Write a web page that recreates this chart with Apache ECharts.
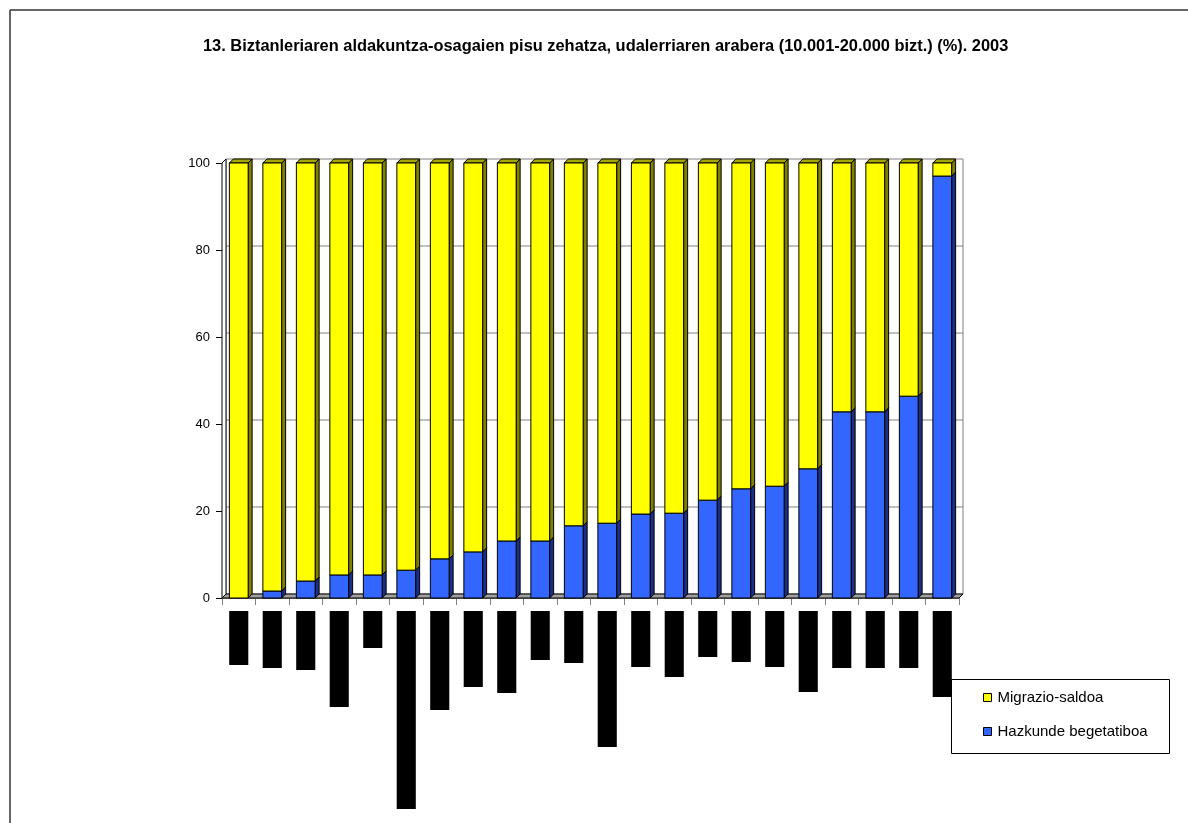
<!DOCTYPE html>
<html>
<head>
<meta charset="utf-8">
<script src="https://cdn.jsdelivr.net/npm/echarts@6/dist/echarts.min.js"></script>
<style>
html,body{margin:0;padding:0;background:#fff;}
#chart{width:1188px;height:823px;}
</style>
</head>
<body>
<div id="chart"></div>
<script>
// ---- data ----
const titleText = '13. Biztanleriaren aldakuntza-osagaien pisu zehatza, udalerriaren arabera (10.001-20.000 bizt.) (%). 2003';
const categories = ['1','2','3','4','5','6','7','8','9','10','11','12','13','14','15','16','17','18','19','20','21','22'];
const seriesNames = ['Migrazio-saldoa', 'Hazkunde begetatiboa'];
const hazkunde = [0, 1.6, 3.9, 5.3, 5.3, 6.4, 9.0, 10.6, 13.1, 13.1, 16.6, 17.2, 19.3, 19.5, 22.5, 25.1, 25.7, 29.7, 42.8, 42.8, 46.4, 97.0];
const migrazio = hazkunde.map(v => +(100 - v).toFixed(1));
// lengths of the (redacted, black) category label blocks under the axis
const labelBlockLengths = [54, 57, 59, 96, 37, 198, 99, 76, 82, 49, 52, 136, 56, 66, 46, 51, 56, 81, 57, 57, 57, 86];
const yTicks = [0, 20, 40, 60, 80, 100];

const DEPTH = 4;
const FONT = '"Liberation Sans", Arial, sans-serif';

function bar3d(front, side, top) {
  return function (params, api) {
    const i = api.value(0), lo = api.value(1), hi = api.value(2);
    if (hi - lo <= 0) return null;
    const pLo = api.coord([i, lo]);
    const pHi = api.coord([i, hi]);
    const bw = api.size([1, 0])[0] * 0.56;
    const x0 = pLo[0] - bw / 2, x1 = pLo[0] + bw / 2;
    const d = DEPTH;
    const stroke = {stroke: '#000', lineWidth: 1};
    return {
      type: 'group',
      children: [
        {type: 'polygon', shape: {points: [[x1, pLo[1]], [x1 + d, pLo[1] - d], [x1 + d, pHi[1] - d], [x1, pHi[1]]]},
         style: Object.assign({fill: side}, stroke)},
        {type: 'polygon', shape: {points: [[x0, pHi[1]], [x0 + d, pHi[1] - d], [x1 + d, pHi[1] - d], [x1, pHi[1]]]},
         style: Object.assign({fill: top}, stroke)},
        {type: 'rect', shape: {x: x0, y: pHi[1], width: bw, height: pLo[1] - pHi[1]},
         style: Object.assign({fill: front}, stroke)}
      ]
    };
  };
}

function wallRender(params, api) {
  const cs = params.coordSys;
  const d = DEPTH;
  const xL = cs.x, xR = cs.x + cs.width;
  const yB = api.coord([0, 0])[1];
  const yT = api.coord([0, 100])[1];
  const children = [];
  children.push({type: 'rect', shape: {x: xL + d, y: yT - d, width: xR - xL, height: yB - yT},
    style: {fill: '#fff', stroke: '#808080', lineWidth: 1}});
  yTicks.forEach(t => {
    if (t === 0 || t === 100) return;
    const y = api.coord([0, t])[1] - d;
    children.push({type: 'line', shape: {x1: xL + d, y1: y, x2: xR + d, y2: y},
      style: {stroke: '#808080', lineWidth: 1}});
  });
  children.push({type: 'polygon', shape: {points: [[xL, yB], [xL + d, yB - d], [xL + d, yT - d], [xL, yT]]},
    style: {fill: '#fff', stroke: '#000', lineWidth: 1}});
  children.push({type: 'polygon', shape: {points: [[xL, yB], [xR, yB], [xR + d, yB - d], [xL + d, yB - d]]},
    style: {fill: '#a0a0a0', stroke: '#000', lineWidth: 1}});
  return {type: 'group', children: children};
}

const chart = echarts.init(document.getElementById('chart'), null, {renderer: 'canvas'});
const option = {
  backgroundColor: '#fff',
  animation: false,
  textStyle: {fontFamily: FONT},
  title: {
    text: titleText, left: 203, top: 38, padding: 0,
    textStyle: {fontFamily: FONT, fontSize: 16.4, fontWeight: 'bold', color: '#000'}
  },
  legend: {
    data: seriesNames,
    orient: 'vertical', left: 983, top: 690, padding: 0,
    itemGap: 19, itemWidth: 8, itemHeight: 8, icon: 'rect',
    itemStyle: {borderColor: '#000', borderWidth: 1},
    textStyle: {fontFamily: FONT, fontSize: 15, color: '#000', padding: [0, 0, 0, 1]}
  },
  graphic: [
    {type: 'line', shape: {x1: 10, y1: 10, x2: 1188, y2: 10}, style: {stroke: '#333', lineWidth: 1.5}, z: 100},
    {type: 'line', shape: {x1: 10, y1: 10, x2: 10, y2: 823}, style: {stroke: '#333', lineWidth: 1.5}, z: 100},
    {type: 'rect', shape: {x: 951.5, y: 679.5, width: 218, height: 74}, style: {fill: '#fff', stroke: '#000', lineWidth: 1}, z: -1}
  ],
  grid: [
    {left: 222, right: 229, top: 163, bottom: 225, containLabel: false},
    {left: 222, right: 229, top: 611, height: 200, containLabel: false}
  ],
  xAxis: [
    {type: 'category', data: categories, gridIndex: 0,
     axisLine: {show: true, lineStyle: {color: '#808080'}},
     axisTick: {show: true, interval: 0, length: 7, lineStyle: {color: '#808080'}},
     axisLabel: {show: false}, splitLine: {show: false}},
    {type: 'category', data: categories, gridIndex: 1,
     axisLine: {show: false}, axisTick: {show: false}, axisLabel: {show: false}}
  ],
  yAxis: [
    {type: 'value', gridIndex: 0, min: 0, max: 100, interval: 20,
     axisLine: {show: true, lineStyle: {color: '#000'}},
     axisTick: {show: true, length: 6, lineStyle: {color: '#000'}},
     axisLabel: {fontFamily: FONT, fontSize: 13, color: '#000', margin: 12},
     splitLine: {show: false}},
    {type: 'value', gridIndex: 1, min: 0, max: 200, inverse: true, show: false,
     splitLine: {show: false}}
  ],
  series: [
    {type: 'custom', name: 'wall', xAxisIndex: 0, yAxisIndex: 0, data: [[0]], renderItem: wallRender,
     silent: true, z: 1},
    {type: 'custom', name: seriesNames[1], xAxisIndex: 0, yAxisIndex: 0, z: 3,
     itemStyle: {color: '#3366ff'},
     encode: {x: 0, y: [1, 2]},
     data: hazkunde.map((v, i) => [i, 0, v]),
     renderItem: bar3d('#3366ff', '#1a2f85', '#2549c0')},
    {type: 'custom', name: seriesNames[0], xAxisIndex: 0, yAxisIndex: 0, z: 3,
     itemStyle: {color: '#ffff00'},
     encode: {x: 0, y: [1, 2]},
     data: migrazio.map((v, i) => [i, hazkunde[i], hazkunde[i] + v]),
     renderItem: bar3d('#ffff00', '#808000', '#a6a600')},
    {type: 'bar', name: 'labels', xAxisIndex: 1, yAxisIndex: 1, data: labelBlockLengths,
     barWidth: '57%', itemStyle: {color: '#000'}, silent: true}
  ]
};
chart.setOption(option);
</script>
</body>
</html>
